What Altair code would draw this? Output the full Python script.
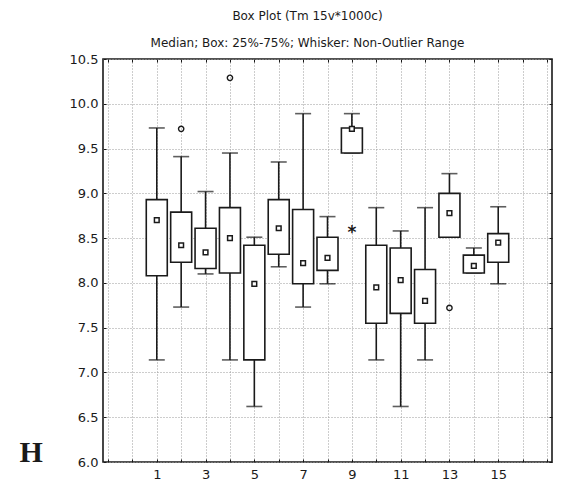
import altair as alt
import pandas as pd

# ---- data ----
groups = list(range(1, 16))
whisker_hi = [9.73, 9.41, 9.02, 9.45, 8.51, 9.35, 9.89, 8.74, 9.89, 8.84, 8.58, 8.84, 9.22, 8.39, 8.85]
box_hi     = [8.93, 8.79, 8.61, 8.84, 8.42, 8.93, 8.82, 8.51, 9.73, 8.42, 8.39, 8.15, 9.00, 8.31, 8.55]
medians    = [8.70, 8.42, 8.34, 8.50, 7.99, 8.61, 8.22, 8.28, 9.72, 7.95, 8.03, 7.80, 8.78, 8.19, 8.45]
box_lo     = [8.08, 8.23, 8.16, 8.11, 7.14, 8.32, 7.99, 8.14, 9.45, 7.55, 7.66, 7.55, 8.51, 8.11, 8.23]
whisker_lo = [7.14, 7.73, 8.10, 7.14, 6.62, 8.18, 7.73, 7.99, 9.45, 7.14, 6.62, 7.14, 8.51, 8.11, 7.99]

outlier_group = [2, 4, 13]
outlier_value = [9.72, 10.29, 7.72]
extreme_group = [9]
extreme_value = [8.61]

x_ticks = list(range(-1, 18))
y_ticks = [6.0, 6.5, 7.0, 7.5, 8.0, 8.5, 9.0, 9.5, 10.0, 10.5]

title_text = "Box Plot (Tm 15v*1000c)"
subtitle_text = "Median; Box: 25%-75%; Whisker: Non-Outlier Range"
panel_label = "H"

W, H = 449, 403
FONT = "DejaVu Sans"
INK = "#1a1a1a"

df = pd.DataFrame({"g": groups, "whi": whisker_hi, "q3": box_hi, "med": medians,
                   "q1": box_lo, "wlo": whisker_lo})
df_out = pd.DataFrame({"g": outlier_group, "v": outlier_value})
df_ext = pd.DataFrame({"g": extreme_group, "v": extreme_value, "t": ["*"]})
df_lab = pd.DataFrame({"g": [-4.15], "v": [6.0], "t": [panel_label]})

xs = alt.Scale(domain=[-1, 17], nice=False, zero=False)
ys = alt.Scale(domain=[6.0, 10.5], nice=False, zero=False)

x_axis = alt.Axis(orient="bottom", values=x_ticks, title=None, grid=True,
                  gridDash=[1, 2], gridColor="#9a9a9a", gridWidth=1,
                  tickSize=0, domain=False, labelFont=FONT, labelFontSize=13,
                  labelColor=INK, labelPadding=6,
                  labelExpr="(datum.value >= 1 && datum.value <= 15 && datum.value % 2 == 1) ? datum.label : ''")
y_axis = alt.Axis(orient="left", values=y_ticks, title=None, grid=True, format=".1f",
                  gridDash=[1, 2], gridColor="#9a9a9a", gridWidth=1,
                  tickSize=0, domain=False, labelFont=FONT, labelFontSize=13,
                  labelColor=INK, labelPadding=5)


def X(field):
    return alt.X(field, type="quantitative", scale=xs, axis=x_axis)


def Y(field):
    return alt.Y(field, type="quantitative", scale=ys, axis=y_axis)


SW = 1.6
base = alt.Chart(df)
whisk = base.mark_rule(color=INK, strokeWidth=SW).encode(x=X("g"), y=Y("wlo"), y2="whi")
cap_hi = base.mark_tick(orient="horizontal", color=INK, size=16, thickness=SW).encode(x=X("g"), y=Y("whi"))
cap_lo = base.mark_tick(orient="horizontal", color=INK, size=16, thickness=SW).encode(x=X("g"), y=Y("wlo"))
box = base.mark_bar(size=21, fill="white", stroke=INK, strokeWidth=SW).encode(x=X("g"), y=Y("q1"), y2="q3")
med = base.mark_square(size=22, fill="white", stroke=INK, strokeWidth=1.5, opacity=1).encode(x=X("g"), y=Y("med"))
outl = alt.Chart(df_out).mark_point(shape="circle", size=28, filled=False, stroke=INK,
                                    strokeWidth=1.4, opacity=1).encode(x=X("g"), y=Y("v"))
ext = alt.Chart(df_ext).mark_text(font=FONT, fontSize=17, fontWeight="bold", color=INK, dy=5).encode(
    x=X("g"), y=Y("v"), text="t")
lab = alt.Chart(df_lab).mark_text(font="Liberation Serif", fontSize=30, fontWeight="bold",
                                  color=INK, align="center", baseline="alphabetic").encode(
    x=X("g"), y=Y("v"), text="t")

main = alt.layer(whisk, cap_hi, cap_lo, box, med, outl, ext, lab)

tick_kw = dict(title=None, grid=False, labels=False, domain=False, ticks=True,
               tickSize=3, tickColor=INK, tickWidth=1)
# inward ticks on all four sides
ticks_a = base.mark_point(opacity=0).encode(
    x=alt.X("g", type="quantitative", scale=xs,
            axis=alt.Axis(orient="bottom", offset=-H, values=x_ticks, **tick_kw)),
    y=alt.Y("med", type="quantitative", scale=ys,
            axis=alt.Axis(orient="left", offset=-W, values=y_ticks, **tick_kw)))
ticks_b = base.mark_point(opacity=0).encode(
    x=alt.X("g", type="quantitative", scale=xs,
            axis=alt.Axis(orient="top", offset=-H, values=x_ticks, **tick_kw)),
    y=alt.Y("med", type="quantitative", scale=ys,
            axis=alt.Axis(orient="right", offset=-W, values=y_ticks, **tick_kw)))

chart = alt.layer(main, ticks_a, ticks_b).resolve_axis(
    x="independent", y="independent"
).properties(
    width=W, height=H,
    autosize=alt.AutoSizeParams(type="none"),
    padding={"left": 95, "top": 51, "right": 1, "bottom": 22},
    title=alt.TitleParams(text=title_text, subtitle=subtitle_text, anchor="middle",
                          dx=-20, offset=3, font=FONT, fontSize=12, fontWeight="normal",
                          color=INK, subtitleFont=FONT, subtitleFontSize=12,
                          subtitleColor=INK, subtitlePadding=15),
    background="white",
).configure_view(stroke=INK, strokeWidth=1.6)

chart.save("out.html", embed_options={"renderer": "svg", "actions": False})
